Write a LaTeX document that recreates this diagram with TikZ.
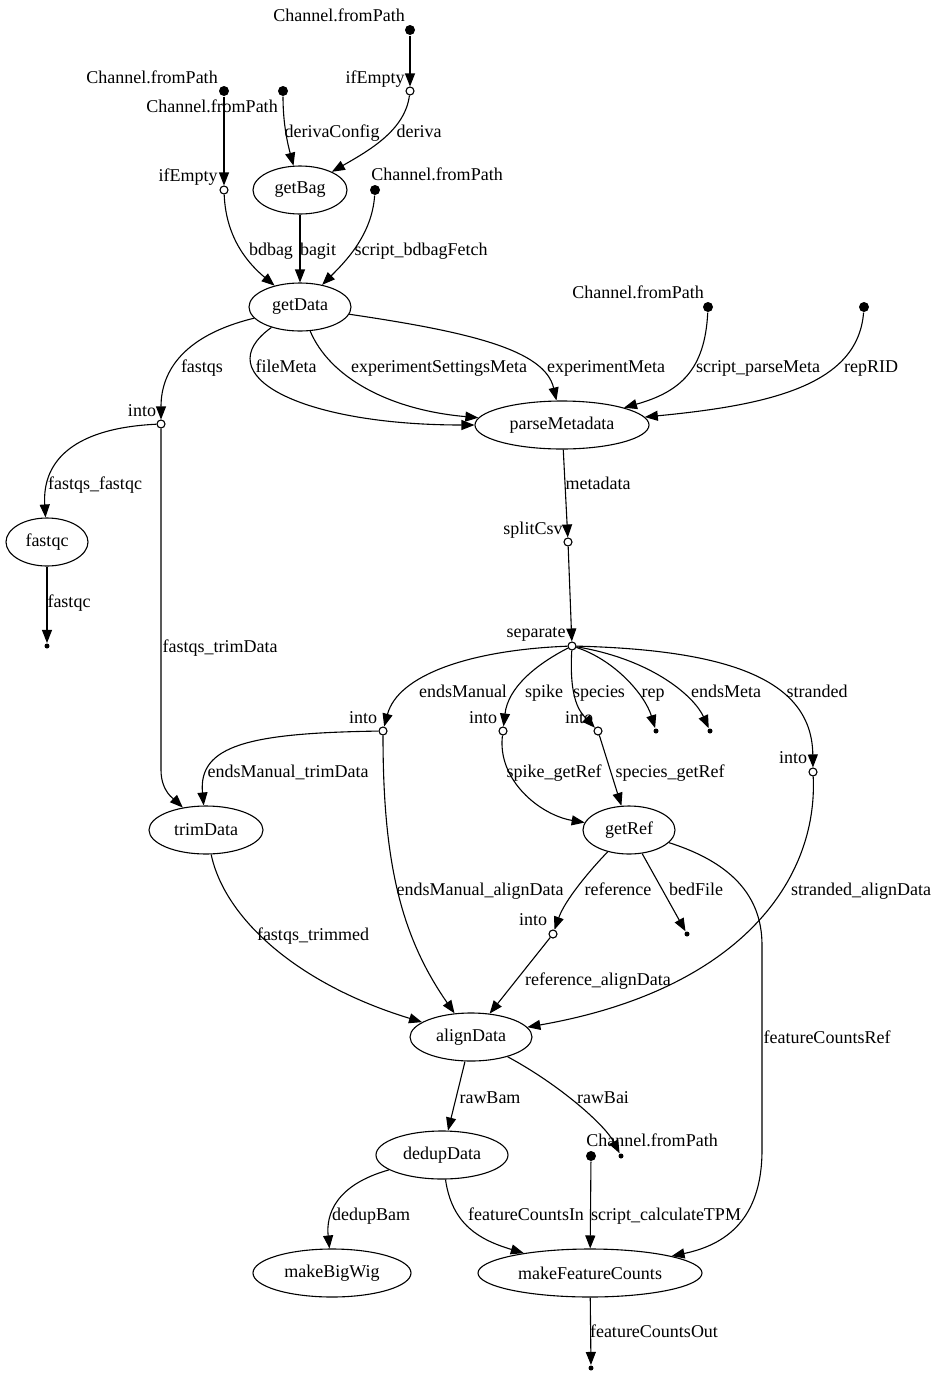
\documentclass[tikz,border=0pt]{standalone}
\usepackage{fontspec}
\setmainfont{Liberation Serif}
\usetikzlibrary{arrows.meta,shapes.geometric}

\begin{document}
\begin{tikzpicture}[x=1pt, y=-1pt, line width=1.1pt,
        font=\fontsize{18}{20}\selectfont,
        proc/.style={ellipse, draw, inner sep=0pt, minimum height=48pt},
        src/.style={circle, fill, inner sep=0pt, minimum size=10pt},
        op/.style={circle, draw, fill=white, inner sep=0pt, minimum size=8pt},
        sink/.style={circle, fill, inner sep=0pt, minimum size=5pt},
        txt/.style={anchor=base, inner sep=0pt},
        flow/.style={-{Triangle[length=13pt, width=10pt]}}]
    \useasboundingbox (0,0) rectangle (937,1377);
    \path
        (410,30) node[src] (srcA) {}
        (410,91) node[op] (ifA) {}
        (224,91) node[src] (srcB) {}
        (283,91) node[src] (srcC) {}
        (300,190) node[proc, minimum width=94pt] (getBag) {getBag}
        (224,190) node[op] (ifB) {}
        (375,190) node[src] (srcD) {}
        (300,307) node[proc, minimum width=102pt] (getData) {getData}
        (708,307) node[src] (srcE) {}
        (864,307) node[src] (srcF) {}
        (562,425) node[proc, minimum width=174pt] (parseMetadata) {parseMetadata}
        (161,424) node[op] (inA) {}
        (47,542) node[proc, minimum width=82pt] (fastqc) {fastqc}
        (47,646) node[sink] (sinkFq) {}
        (568,542) node[op] (split) {}
        (572,646) node[op] (sep) {}
        (383,731) node[op] (inB) {}
        (503,731) node[op] (inC) {}
        (598,731) node[op] (inD) {}
        (656,731) node[sink] (sinkRep) {}
        (710,731) node[sink] (sinkEnd) {}
        (813,772) node[op] (inE) {}
        (206,830) node[proc, minimum width=114pt] (trimData) {trimData}
        (629,830) node[proc, minimum width=92pt] (getRef) {getRef}
        (553,934) node[op] (inF) {}
        (687,934) node[sink] (sinkBed) {}
        (471,1037) node[proc, minimum width=122pt] (alignData) {alignData}
        (442,1155) node[proc, minimum width=132pt] (dedupData) {dedupData}
        (591,1156) node[src] (srcG) {}
        (621,1156) node[sink] (sinkBai) {}
        (332,1273) node[proc, minimum width=158pt] (makeBigWig) {makeBigWig}
        (590,1273) node[proc, minimum width=224pt] (makeFeatureCounts) {makeFeatureCounts}
        (591,1368) node[sink] (sinkOut) {}
    ;
    \path
        (339,21) node[txt] (xlA) {Channel.fromPath}
        (375,83) node[txt] (xlIfA) {ifEmpty}
        (152,83) node[txt] (xlB) {Channel.fromPath}
        (212,112) node[txt] (xlC) {Channel.fromPath}
        (188,181) node[txt] (xlIfB) {ifEmpty}
        (437,180) node[txt] (xlD) {Channel.fromPath}
        (638,298) node[txt] (xlE) {Channel.fromPath}
        (142,416) node[txt] (xlInA) {into}
        (533,534) node[txt] (xlSplit) {splitCsv}
        (536,637) node[txt] (xlSep) {separate}
        (363,723) node[txt] (xlInB) {into}
        (483,723) node[txt] (xlInC) {into}
        (579,723) node[txt] (xlInD) {into}
        (793,763) node[txt] (xlInE) {into}
        (533,925) node[txt] (xlInF) {into}
        (652,1146) node[txt] (xlG) {Channel.fromPath}
    ;
    \path
        (332,137) node[txt] (lDerivaConfig) {derivaConfig}
        (419,137) node[txt] (lDeriva) {deriva}
        (271,255) node[txt] (lBdbag) {bdbag}
        (318,255) node[txt] (lBagit) {bagit}
        (421,255) node[txt] (lFetch) {script\_bdbagFetch}
        (202,372) node[txt] (lFastqs) {fastqs}
        (286,372) node[txt] (lFileMeta) {fileMeta}
        (439,372) node[txt] (lSettings) {experimentSettingsMeta}
        (606,372) node[txt] (lExpMeta) {experimentMeta}
        (758,372) node[txt] (lParseMeta) {script\_parseMeta}
        (871,372) node[txt] (lRepRID) {repRID}
        (598,489) node[txt] (lMetadata) {metadata}
        (95,489) node[txt] (lFastqsFastqc) {fastqs\_fastqc}
        (69,607) node[txt] (lFastqc) {fastqc}
        (220,652) node[txt] (lFastqsTrim) {fastqs\_trimData}
        (463,697) node[txt] (lEndsManual) {endsManual}
        (544,697) node[txt] (lSpike) {spike}
        (599,697) node[txt] (lSpecies) {species}
        (653,697) node[txt] (lRep) {rep}
        (726,697) node[txt] (lEndsMeta) {endsMeta}
        (817,697) node[txt] (lStranded) {stranded}
        (288,777) node[txt] (lEndsTrim) {endsManual\_trimData}
        (554,777) node[txt] (lSpikeRef) {spike\_getRef}
        (670,777) node[txt] (lSpeciesRef) {species\_getRef}
        (480,895) node[txt] (lEndsAlign) {endsManual\_alignData}
        (618,895) node[txt] (lReference) {reference}
        (696,895) node[txt] (lBedFile) {bedFile}
        (861,895) node[txt] (lStrandedAlign) {stranded\_alignData}
        (313,940) node[txt] (lTrimmed) {fastqs\_trimmed}
        (598,985) node[txt] (lRefAlign) {reference\_alignData}
        (827,1043) node[txt] (lCountsRef) {featureCountsRef}
        (490,1103) node[txt] (lRawBam) {rawBam}
        (603,1103) node[txt] (lRawBai) {rawBai}
        (371,1220) node[txt] (lDedupBam) {dedupBam}
        (526,1220) node[txt] (lCountsIn) {featureCountsIn}
        (666,1220) node[txt] (lTPM) {script\_calculateTPM}
        (654,1337) node[txt] (lCountsOut) {featureCountsOut}
    ;
    \draw[flow] (srcA) -- (ifA);
    \draw[flow] (srcB) -- (ifB);
    \draw[flow] (srcC) .. controls (283,125) and (288,145) .. (getBag);
    \draw[flow] (ifA) .. controls (405,130) and (370,150) .. (getBag);
    \draw[flow] (ifB) .. controls (226,240) and (250,265) .. (getData);
    \draw[flow] (getBag) -- (getData);
    \draw[flow] (srcD) .. controls (372,235) and (345,262) .. (getData);
    \draw[flow] (getData) .. controls (185,335) and (161,370) .. (inA);
    \draw[flow] (getData) .. controls (205,375) and (300,425) .. (parseMetadata);
    \draw[flow] (getData) .. controls (330,378) and (390,410) .. (parseMetadata);
    \draw[flow] (getData) .. controls (470,332) and (545,350) .. (parseMetadata);
    \draw[flow] (srcE) .. controls (705,370) and (680,392) .. (parseMetadata);
    \draw[flow] (srcF) .. controls (858,385) and (770,405) .. (parseMetadata);
    \draw[flow] (parseMetadata) -- (split);
    \draw[flow] (split) -- (sep);
    \draw[flow] (inA) .. controls (75,428) and (42,460) .. (fastqc);
    \draw[flow] (inA) -- (161,770) .. controls (161,792) and (175,800) .. (trimData);
    \draw[flow] (fastqc) -- (sinkFq);
    \draw[flow] (sep) .. controls (470,650) and (398,675) .. (inB);
    \draw[flow] (sep) .. controls (535,665) and (508,688) .. (inC);
    \draw[flow] (sep) .. controls (569,700) and (580,712) .. (inD);
    \draw[flow] (sep) .. controls (615,660) and (645,695) .. (sinkRep);
    \draw[flow] (sep) .. controls (655,660) and (695,698) .. (sinkEnd);
    \draw[flow] (sep) .. controls (730,650) and (812,680) .. (inE);
    \draw[flow] (inB) .. controls (250,733) and (198,745) .. (trimData);
    \draw[flow] (inB) .. controls (383,860) and (400,935) .. (alignData);
    \draw[flow] (trimData) .. controls (225,920) and (300,985) .. (alignData);
    \draw[flow] (inC) .. controls (497,780) and (540,815) .. (getRef);
    \draw[flow] (inD) -- (getRef);
    \draw[flow] (getRef) .. controls (590,870) and (565,900) .. (inF);
    \draw[flow] (getRef) -- (sinkBed);
    \draw[flow] (getRef) .. controls (730,862) and (762,895) .. (762,945)
        -- (762,1150) .. controls (762,1220) and (725,1245) .. (makeFeatureCounts);
    \draw[flow] (inE) .. controls (818,880) and (740,990) .. (alignData);
    \draw[flow] (inF) -- (alignData);
    \draw[flow] (alignData) -- (dedupData);
    \draw[flow] (alignData) .. controls (560,1085) and (605,1125) .. (sinkBai);
    \draw[flow] (srcG) -- (makeFeatureCounts);
    \draw[flow] (dedupData) .. controls (335,1185) and (326,1215) .. (makeBigWig);
    \draw[flow] (dedupData) .. controls (452,1225) and (480,1240) .. (makeFeatureCounts);
    \draw[flow] (makeFeatureCounts) -- (sinkOut);
\end{tikzpicture}
\end{document}
